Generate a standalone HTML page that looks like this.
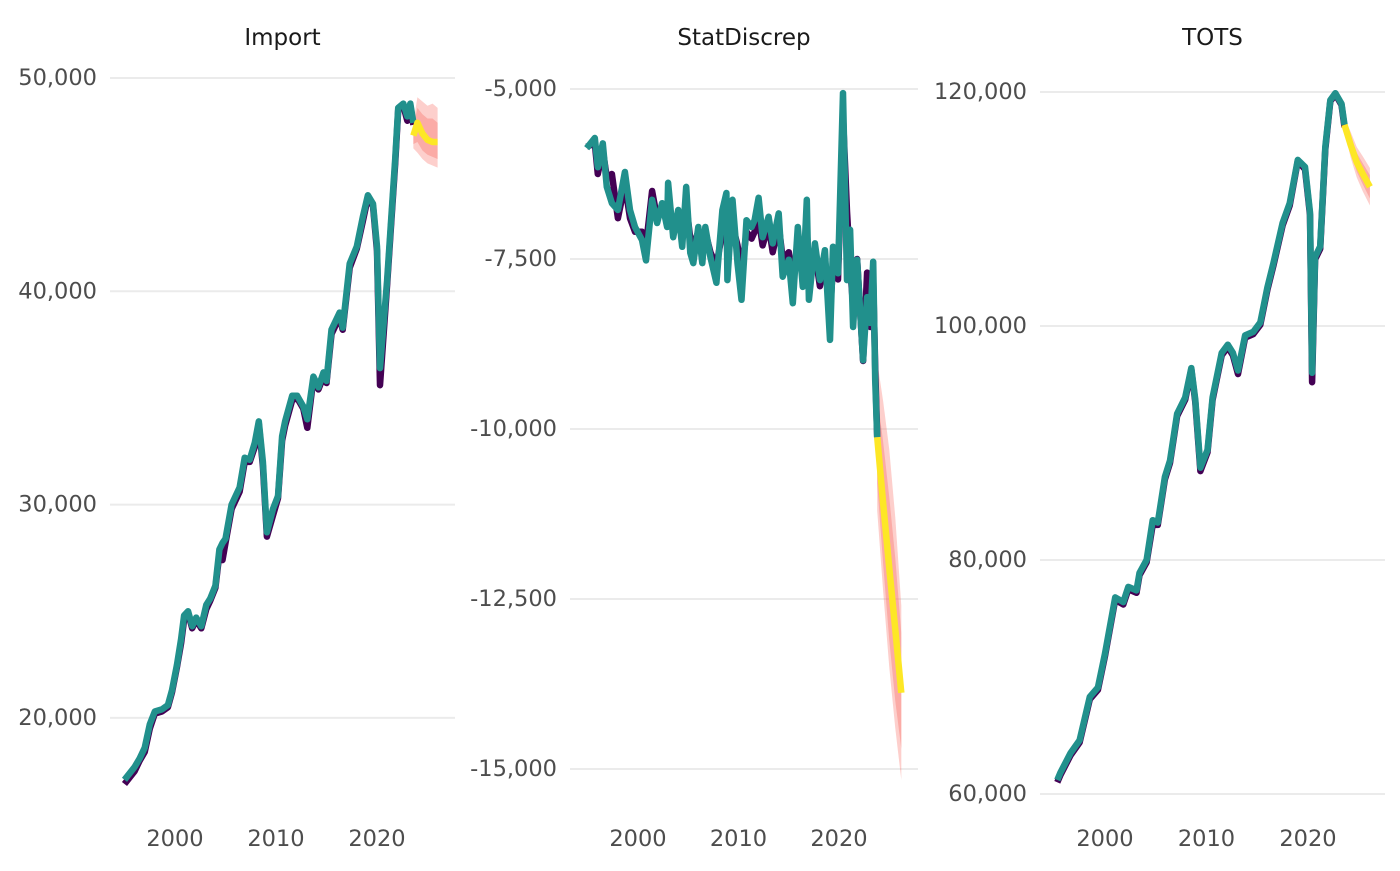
<!DOCTYPE html>
<html><head><meta charset="utf-8"><style>
html,body{margin:0;padding:0;background:#fff;}
svg text{font-family:"DejaVu Sans","Liberation Sans",sans-serif;}
</style></head><body>
<svg id="chart" width="1400" height="866" viewBox="0 0 1400 866" xmlns="http://www.w3.org/2000/svg"></svg>
<script>
// ---------- Import ----------
const impYears=[1995.0,1996.0,1996.5,1997.0,1997.5,1998.0,1998.7,1999.3,1999.7,2000.2,2000.6,2000.9,2001.3,2001.7,2002.1,2002.6,2003.1,2003.5,2004.0,2004.4,2004.7,2005.0,2005.6,2006.4,2006.9,2007.4,2007.9,2008.3,2008.7,2009.1,2009.7,2010.2,2010.6,2010.9,2011.6,2012.1,2012.7,2013.1,2013.7,2014.2,2014.7,2015.0,2015.5,2016.3,2016.6,2017.3,2018.0,2018.6,2019.1,2019.6,2020.0,2020.3,2021.0,2021.6,2021.8,2022.1,2022.6,2023.0,2023.3,2023.6];
const impFitted=[17100,17700,18100,18600,19700,20300,20400,20600,21300,22500,23700,24800,25000,24300,24700,24300,25300,25600,26200,27900,28200,28400,30000,30800,32200,32100,32900,33900,32000,28700,29800,30400,33200,33900,35100,35100,34600,34000,36000,35500,36200,35800,38200,39000,38300,41300,42100,43500,44500,44100,42100,36400,40500,44800,46200,48600,48800,48200,48800,47900];
const impActual=[16900,17500,18000,18400,19500,20200,20300,20500,21200,22400,23500,24600,24900,24200,24600,24200,25100,25500,26100,27700,27400,28200,29800,30600,32000,32000,32700,33800,31800,28500,29500,30300,33000,33700,34900,35000,34500,33600,35900,35400,36000,35700,38000,38800,38200,41100,42000,43300,44400,44000,41900,35600,40300,44600,46000,48500,48700,48000,48700,47800];
const impFcYears=[2023.6,2024.0,2024.5,2025.0,2025.5,2026.0];
const impMean=[47300,47900,47400,47100,47000,47000];
const impHi95=[47900,49100,48900,48700,48800,48600];
const impLo95=[46700,46500,46200,46000,45900,45800];
const impHi80=[47700,48600,48300,48100,48100,47900];
const impLo80=[46900,47000,46600,46400,46300,46200];
const impTicks=[20000,30000,40000,50000];
const impTickLabels=["20,000","30,000","40,000","50,000"];

// ---------- StatDiscrep ----------
const sdYears=[1994.9,1995.7,1996.0,1996.5,1996.9,1997.4,1998.0,1998.7,1999.2,1999.7,2000.4,2000.8,2001.4,2001.9,2002.4,2002.9,2003.0,2003.5,2004.0,2004.4,2004.8,2005.2,2005.5,2006.0,2006.4,2006.7,2007.2,2007.8,2008.4,2008.8,2008.9,2009.4,2009.9,2010.3,2010.8,2011.3,2011.6,2012.0,2012.4,2013.0,2013.4,2014.0,2014.4,2015.0,2015.4,2015.9,2016.4,2016.8,2017.0,2017.6,2018.1,2018.6,2019.1,2019.4,2019.9,2020.4,2020.8,2021.1,2021.4,2021.8,2022.4,2022.8,2023.1,2023.4,2023.6,2023.8];
const sdFitted=[-5870,-5720,-6150,-5800,-6440,-6680,-6780,-6220,-6780,-7030,-7220,-7520,-6630,-6970,-6680,-7030,-6380,-7180,-6780,-7320,-6440,-7410,-7560,-7030,-7560,-7030,-7470,-7850,-6780,-6530,-7810,-6630,-7560,-8100,-6930,-7030,-6930,-6600,-7180,-6880,-7270,-6830,-7760,-7510,-8150,-7030,-7910,-6630,-8100,-7270,-7810,-7370,-8690,-7320,-7710,-5060,-7810,-7070,-8500,-7510,-8990,-8060,-8440,-7540,-9280,-10120];
const sdActual=[-5850,-5800,-6250,-5900,-6300,-6250,-6900,-6400,-6900,-7100,-7100,-7300,-6500,-6900,-6750,-6900,-6800,-7000,-6900,-7100,-6700,-7200,-7300,-7100,-7400,-7100,-7400,-7600,-7100,-6800,-7500,-7000,-7300,-7700,-7100,-7200,-7100,-6900,-7300,-7000,-7400,-7000,-7500,-7400,-7900,-7200,-7600,-7000,-7800,-7400,-7900,-7500,-8300,-7600,-7800,-5400,-6800,-7600,-8200,-7500,-9000,-7700,-8500,-7800,-9100,-10120];
const sdFcYears=[2023.8,2024.4,2025.0,2025.6,2026.2];
const sdMean=[-10120,-11100,-12050,-12950,-13880];
const sdHi95=[-9000,-9600,-10300,-11300,-12600];
const sdLo95=[-11200,-12400,-13500,-14400,-15160];
const sdHi80=[-9500,-10200,-11000,-11900,-13000];
const sdLo80=[-10800,-12000,-13100,-14000,-14700];
const sdTicks=[-15000,-12500,-10000,-7500,-5000];
const sdTickLabels=["-15,000","-12,500","-10,000","-7,500","-5,000"];

// ---------- TOTS ----------
const totsYears=[1995.3,1995.6,1996.6,1997.5,1998.5,1999.3,2000.0,2001.0,2001.8,2002.3,2003.1,2003.4,2004.1,2004.7,2005.2,2005.9,2006.4,2007.1,2007.9,2008.5,2008.9,2009.4,2010.1,2010.6,2011.5,2012.1,2012.6,2013.1,2013.8,2014.6,2015.3,2016.0,2016.6,2017.5,2018.2,2019.0,2019.7,2020.2,2020.4,2020.7,2021.2,2021.7,2022.2,2022.7,2023.3,2023.6];
const totsFitted=[61200,61800,63500,64600,68300,69100,72000,76800,76400,77700,77400,78900,80000,83400,83200,87100,88500,92500,93900,96400,93700,87900,89400,93900,97700,98400,97700,96200,99200,99500,100300,103300,105400,108800,110500,114200,113600,109700,96000,105900,106800,115300,119300,119900,119000,117200];
const totsActual=[61000,61600,63300,64400,68100,68900,71800,76600,76200,77500,77200,78700,79800,83000,83000,86900,88300,92300,93700,96300,93500,87600,89200,93700,97500,98200,97500,95900,99000,99300,100100,103100,105200,108600,110300,114100,113400,109500,95200,105700,106600,115100,119200,119800,118900,117000];
const totsFcYears=[2023.6,2024.2,2024.8,2025.4,2026.1];
const totsMean=[117200,115500,114000,113000,111900];
const totsHi95=[117800,116600,115300,114500,113500];
const totsLo95=[116600,114400,112700,111500,110300];
const totsHi80=[117600,116200,114800,113900,112900];
const totsLo80=[116800,114800,113200,112100,110900];
const totsTicks=[60000,80000,100000,120000];
const totsTickLabels=["60,000","80,000","100,000","120,000"];

const xTicks=[2000,2010,2020];
const xTickLabels=["2000","2010","2020"];

const NS="http://www.w3.org/2000/svg";
const svg=document.getElementById('chart');
function mk(tag,attrs,parent){const e=document.createElementNS(NS,tag);for(const k in attrs)e.setAttribute(k,attrs[k]);(parent||svg).appendChild(e);return e;}

function panel(cfg){
  const g=mk('g',{});
  
  
  const sx=y=>cfg.x0+(y-2000)*cfg.xs;
  const sy=v=>cfg.y0+(v-cfg.v0)*cfg.ys;
  const t=mk('text',{x:(cfg.left+cfg.right)/2,y:45,'text-anchor':'middle','font-size':'23',fill:'#1a1a1a'},g);
  t.textContent=cfg.title;
  
  
  cfg.ticks.forEach((v,i)=>{
    const l=mk('line',{x1:cfg.left,x2:cfg.right,y1:sy(v),y2:sy(v),stroke:'#ebebeb','stroke-width':2},g);
    
    
    const tx=mk('text',{x:cfg.left-13,y:sy(v)+7,'text-anchor':'end','font-size':'22.5',fill:'#4d4d4d'},g);
    tx.textContent=cfg.tickLabels[i];
    
    
  });
  xTicks.forEach((yr,i)=>{
    const tx=mk('text',{x:sx(yr),y:846,'text-anchor':'middle','font-size':'22.5',fill:'#4d4d4d'},g);
    tx.textContent=xTickLabels[i];
    
    
  });
  const band=(hi,lo,op,nm)=>{
    let d='';
    cfg.fy.forEach((yr,i)=>{d+=(i?'L':'M')+sx(yr)+','+sy(hi[i]);});
    for(let i=cfg.fy.length-1;i>=0;i--)d+='L'+sx(cfg.fy[i])+','+sy(lo[i]);
    const p=mk('path',{d:d+'Z',fill:'#F8766D','fill-opacity':op,stroke:'none'},g);
    
    
  };
  band(cfg.hi95,cfg.lo95,0.35,cfg.name+'-interval-95');
  band(cfg.hi80,cfg.lo80,0.4,cfg.name+'-interval-80');
  const line=(xs,vs,col,nm)=>{
    const d=xs.map((yr,i)=>(i?'L':'M')+sx(yr).toFixed(1)+','+sy(vs[i]).toFixed(1)).join('');
    const p=mk('path',{d:d,fill:'none',stroke:col,'stroke-width':6.5,'stroke-linejoin':'round','stroke-linecap':'butt'},g);
    
    
  };
  line(cfg.years,cfg.actual,'#440154',cfg.name+'-actual-line');
  line(cfg.years,cfg.fitted,'#21908C',cfg.name+'-fitted-line');
  line(cfg.fy,cfg.mean,'#FDE725',cfg.name+'-forecast-line');
}

panel({name:'import',title:'Import',left:110,right:455,x0:175,xs:10.1,y0:78,v0:50000,ys:-213.3/10000,
  ticks:impTicks,tickLabels:impTickLabels,years:impYears,actual:impActual,fitted:impFitted,
  fy:impFcYears,mean:impMean,hi95:impHi95,lo95:impLo95,hi80:impHi80,lo80:impLo80});
panel({name:'statdiscrep',title:'StatDiscrep',left:570,right:918,x0:638,xs:10.05,y0:89,v0:-5000,ys:-170/2500,
  ticks:sdTicks,tickLabels:sdTickLabels,years:sdYears,actual:sdActual,fitted:sdFitted,
  fy:sdFcYears,mean:sdMean,hi95:sdHi95,lo95:sdLo95,hi80:sdHi80,lo80:sdLo80});
panel({name:'tots',title:'TOTS',left:1040,right:1385,x0:1105,xs:10.15,y0:92,v0:120000,ys:-234/20000,
  ticks:totsTicks,tickLabels:totsTickLabels,years:totsYears,actual:totsActual,fitted:totsFitted,
  fy:totsFcYears,mean:totsMean,hi95:totsHi95,lo95:totsLo95,hi80:totsHi80,lo80:totsLo80});
</script>
</body></html>
